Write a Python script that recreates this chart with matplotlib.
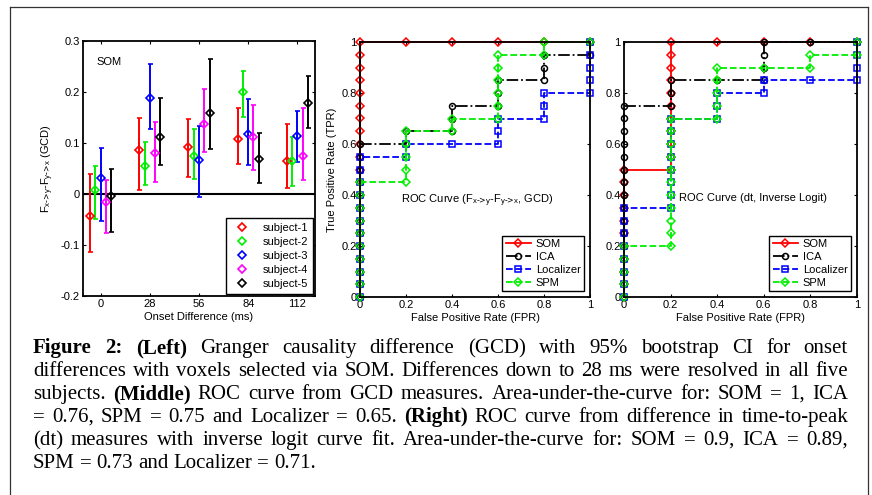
import numpy as np
import matplotlib
matplotlib.use("Agg")
import matplotlib.pyplot as plt
from matplotlib.lines import Line2D

plt.rcParams['font.family'] = ['Liberation Sans', 'DejaVu Sans']
plt.rcParams['mathtext.default'] = 'regular'
plt.rcParams['font.size'] = 8

W, H = 872, 495
FS = 8

# ---- left panel data (GCD with 95% CI) ----
onsets = [0, 28, 56, 84, 112]
subjects = ['subject-1', 'subject-2', 'subject-3', 'subject-4', 'subject-5']
subj_colors = ['#ff0000', '#00ee00', '#0000ff', '#ff00ff', '#000000']
subj_offset = [-6, -3, 0, 3, 6]
gcd_mean = [
    [-0.043, 0.087, 0.093, 0.108, 0.064],
    [0.007, 0.055, 0.074, 0.200, 0.064],
    [0.032, 0.189, 0.067, 0.118, 0.113],
    [-0.016, 0.081, 0.138, 0.112, 0.074],
    [-0.003, 0.112, 0.159, 0.069, 0.178],
]
gcd_lo = [
    [-0.114, 0.008, 0.034, 0.058, 0.011],
    [-0.049, 0.018, 0.030, 0.151, 0.016],
    [-0.052, 0.128, -0.005, 0.056, 0.062],
    [-0.077, 0.024, 0.082, 0.048, 0.027],
    [-0.074, 0.057, 0.088, 0.021, 0.129],
]
gcd_hi = [
    [0.039, 0.149, 0.147, 0.169, 0.137],
    [0.054, 0.101, 0.127, 0.242, 0.112],
    [0.091, 0.254, 0.133, 0.187, 0.162],
    [0.027, 0.142, 0.205, 0.175, 0.169],
    [0.049, 0.188, 0.265, 0.120, 0.232],
]

# ---- ROC data: for each FPR column, TPR at entry and exit ----
FPR_COLS = [0, 0.2, 0.4, 0.6, 0.8, 1.0]
methods = ['SOM', 'ICA', 'Localizer', 'SPM']
m_colors = ['#ff0000', '#000000', '#0000ff', '#00ee00']
m_styles = ['-', '-.', '--', '--']
m_markers = ['D', 'o', 's', 'D']

roc_gcd_lo = {
    'SOM':       [0, 1, 1, 1, 1, 1],
    'ICA':       [0, 0.6, 0.65, 0.75, 0.85, 0.95],
    'Localizer': [0, 0.55, 0.6, 0.6, 0.7, 0.8],
    'SPM':       [0, 0.45, 0.65, 0.7, 0.95, 1],
}
roc_gcd_hi = {
    'SOM':       [1, 1, 1, 1, 1, 1],
    'ICA':       [0.6, 0.65, 0.75, 0.85, 0.95, 1],
    'Localizer': [0.55, 0.6, 0.6, 0.7, 0.8, 1],
    'SPM':       [0.45, 0.65, 0.7, 0.95, 1, 1],
}
roc_dt_lo = {
    'SOM':       [0, 0.5, 1, 1, 1, 1],
    'ICA':       [0, 0.75, 0.85, 0.85, 1, 1],
    'Localizer': [0, 0.35, 0.7, 0.8, 0.85, 0.85],
    'SPM':       [0, 0.2, 0.7, 0.9, 0.9, 0.95],
}
roc_dt_hi = {
    'SOM':       [0.5, 1, 1, 1, 1, 1],
    'ICA':       [0.75, 0.85, 0.85, 1, 1, 1],
    'Localizer': [0.35, 0.7, 0.8, 0.85, 0.85, 1],
    'SPM':       [0.2, 0.7, 0.9, 0.9, 0.95, 1],
}

caption_lines = [
    "*Figure *2: *(Left) Granger causality difference (GCD) with 95% bootstrap CI for onset",
    "differences with voxels selected via SOM. Differences down to 28 ms were resolved in all five",
    "subjects. *(Middle) ROC curve from GCD measures. Area-under-the-curve for: SOM = 1, ICA",
    "= 0.76, SPM = 0.75 and Localizer = 0.65. *(Right) ROC curve from difference in time-to-peak",
    "(dt) measures with inverse logit curve fit. Area-under-the-curve for: SOM = 0.9, ICA = 0.89,",
    "SPM = 0.73 and Localizer = 0.71.",
]

GCD_SUB = r'F$_{x\text{->}y}$-F$_{y\text{->}x}$'


def roc_points(lo, hi):
    xs, ys = [], []
    for f, a, b in zip(FPR_COLS, lo, hi):
        n = int(round((b - a) / 0.05))
        for v in np.linspace(a, b, n + 1):
            xs.append(f)
            ys.append(v)
    return xs, ys


def fig_rect(x0, y0, x1, y1):
    return [x0 / W, 1 - y1 / H, (x1 - x0) / W, (y1 - y0) / H]


def style_axes(ax):
    for s in ax.spines.values():
        s.set_linewidth(1.3)
    ax.tick_params(direction='in', length=2.5, width=0.8, top=True, right=True, pad=2.5,
                   labelsize=FS)


fig = plt.figure(figsize=(W / 100, H / 100), dpi=100)

# outer frame
for xs, ys in [([10, 10], [495, 7]), ([10, 868], [7, 7]), ([868, 868], [7, 495])]:
    fig.add_artist(Line2D([x / W for x in xs], [1 - y / H for y in ys],
                          transform=fig.transFigure, color='#333333', lw=0.9))

# ---- left panel ----
ax1 = fig.add_axes(fig_rect(83, 41, 315, 296))
ax1.axhline(0, color='k', lw=1.5, zorder=1)
handles = []
for i in range(5):
    x = np.array(onsets) + subj_offset[i]
    m = np.array(gcd_mean[i])
    err = [m - np.array(gcd_lo[i]), np.array(gcd_hi[i]) - m]
    ax1.errorbar(x, m, yerr=err, fmt='D', color=subj_colors[i], mfc='none',
                 ms=4.3, mew=1.2, elinewidth=1.4, capsize=1.8, capthick=1.4)
    handles.append(Line2D([], [], ls='none', marker='D', color=subj_colors[i],
                          mfc='none', ms=4.3, mew=1.2))
ax1.set_xlim(-10, 122)
ax1.set_ylim(-0.2, 0.3)
ax1.set_xticks(onsets)
ax1.set_yticks([-0.2, -0.1, 0, 0.1, 0.2, 0.3])
ax1.set_yticklabels(['-0.2', '-0.1', '0', '0.1', '0.2', '0.3'])
ax1.set_xlabel('Onset Difference (ms)', fontsize=FS, labelpad=2)
ax1.set_ylabel(GCD_SUB + ' (GCD)', fontsize=FS, labelpad=3)
ax1.text(-2.3, 0.259, 'SOM', fontsize=FS, va='center')
style_axes(ax1)
leg = ax1.legend(handles, subjects, loc='lower right', fontsize=FS, fancybox=False,
                 edgecolor='k', framealpha=1, borderaxespad=0.2, handlelength=2.0,
                 labelspacing=0.35, handletextpad=0.8, borderpad=0.45)
leg.get_frame().set_linewidth(1.0)


def roc_panel(rect, lo_d, hi_d, title, tx, ty, ylabel):
    ax = fig.add_axes(fig_rect(*rect))
    for name, c, ls, mk in zip(methods, m_colors, m_styles, m_markers):
        xs, ys = roc_points(lo_d[name], hi_d[name])
        ax.plot(xs, ys, ls=ls, color=c, marker=mk, mfc='none', ms=4.3, mew=1.1,
                lw=1.3, label=name, clip_on=False)
    ax.set_xlim(0, 1)
    ax.set_ylim(0, 1)
    ticks = [0, 0.2, 0.4, 0.6, 0.8, 1]
    labels = ['0', '0.2', '0.4', '0.6', '0.8', '1']
    ax.set_xticks(ticks)
    ax.set_xticklabels(labels)
    ax.set_yticks(ticks)
    ax.set_yticklabels(labels)
    ax.set_xlabel('False Positive Rate (FPR)', fontsize=FS, labelpad=2)
    if ylabel:
        ax.set_ylabel(ylabel, fontsize=FS, labelpad=3)
    ax.text(tx, ty, title, fontsize=FS, va='center')
    style_axes(ax)
    lg = ax.legend(loc='lower right', fontsize=FS, fancybox=False, edgecolor='k',
                   framealpha=1, borderaxespad=0.55, handlelength=2.3,
                   labelspacing=0.25, handletextpad=0.4, borderpad=0.3)
    lg.get_frame().set_linewidth(1.0)
    return ax


roc_panel((360, 42, 590, 297), roc_gcd_lo, roc_gcd_hi,
          'ROC Curve (' + GCD_SUB + ', GCD)', 0.178, 0.376, 'True Positive Rate (TPR)')
roc_panel((624, 42, 857, 297), roc_dt_lo, roc_dt_hi,
          'ROC Curve (dt, Inverse Logit)', 0.236, 0.39, None)

# ---- caption, justified ----
renderer = fig.canvas.get_renderer()
x_left, x_right = 33, 848
baselines = [353, 376, 399, 422, 445, 468]
for li, line in enumerate(caption_lines):
    words = line.split(' ')
    texts = []
    for w in words:
        bold = w.startswith('*')
        t = fig.text(0, 1 - baselines[li] / H, w.lstrip('*'), family='Liberation Serif',
                     fontsize=15, weight='bold' if bold else 'normal', va='baseline')
        texts.append(t)
    widths = [t.get_window_extent(renderer).width for t in texts]
    if li < len(caption_lines) - 1:
        gap = (x_right - x_left - sum(widths)) / (len(words) - 1)
    else:
        gap = 5.0
    x = x_left
    for t, wd in zip(texts, widths):
        t.set_x(x / W)
        x += wd + gap

fig.savefig('out.png', dpi=100)
